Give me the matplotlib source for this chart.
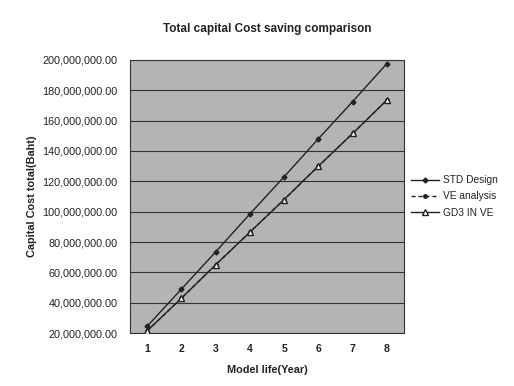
import numpy as np
import matplotlib.pyplot as plt
from matplotlib.ticker import FuncFormatter

plt.rcParams['font.family'] = ['Liberation Sans', 'DejaVu Sans']

years = [1, 2, 3, 4, 5, 6, 7, 8]
std_design = [24.5e6, 49.0e6, 73.5e6, 98.5e6, 123.0e6, 148.0e6, 172.5e6, 197.5e6]
ve_analysis = [21.5e6, 43.0e6, 65.0e6, 86.5e6, 108.0e6, 130.0e6, 151.5e6, 173.5e6]
gd3_in_ve = [21.5e6, 43.0e6, 65.0e6, 86.5e6, 108.0e6, 130.0e6, 151.5e6, 173.5e6]

fig = plt.figure(figsize=(5.14, 3.86), dpi=100)
ax = fig.add_axes([0.253, 0.137, 0.533, 0.708])
ax.set_facecolor('#b4b4b4')

ax.plot(years, std_design, color='#222222', lw=1.0, marker='D', ms=2.5,
        label='STD Design', zorder=3)
ax.plot(years, ve_analysis, color='#222222', lw=1.0, ls=(0, (3, 2)), marker='o', ms=2.5,
        label='VE analysis', zorder=3)
ax.plot(years, gd3_in_ve, color='#222222', lw=1.0, marker='^', ms=5,
        mfc='white', mec='#222222', label='GD3 IN VE', zorder=4)

ax.set_xlim(0.5, 8.5)
ax.set_ylim(20e6, 200e6)
ax.set_yticks(np.arange(20e6, 200e6 + 1, 20e6))
ax.set_xticks(years)
ax.yaxis.set_major_formatter(FuncFormatter(lambda v, p: f'{v:,.2f}'))
ax.grid(axis='y', color='#333333', lw=0.8)
ax.set_axisbelow(True)
for s in ax.spines.values():
    s.set_color('#333333')
    s.set_linestyle((0, (1, 1)))
    s.set_linewidth(0.8)
ax.tick_params(axis='y', length=0, labelsize=7.8, colors='#222222', pad=9)
ax.tick_params(axis='x', length=0, labelsize=7.5, colors='#222222', pad=8)
for t in ax.get_xticklabels():
    t.set_fontweight('bold')

ax.set_title('Total capital Cost saving comparison', fontsize=8.5, fontweight='bold',
             color='#222222', pad=20)
ax.set_xlabel('Model life(Year)', fontsize=7.8, fontweight='bold', color='#222222', labelpad=8)
ax.set_ylabel('Capital Cost total(Baht)', fontsize=7.8, fontweight='bold', color='#222222', labelpad=4)

leg = ax.legend(loc='center left', bbox_to_anchor=(1.0, 0.50), frameon=False,
                fontsize=7.3, handlelength=2.8, labelspacing=0.6, handletextpad=0.3,
                borderaxespad=0.3)
for t in leg.get_texts():
    t.set_color('#222222')

fig.savefig('out.png', dpi=100, facecolor='white')
